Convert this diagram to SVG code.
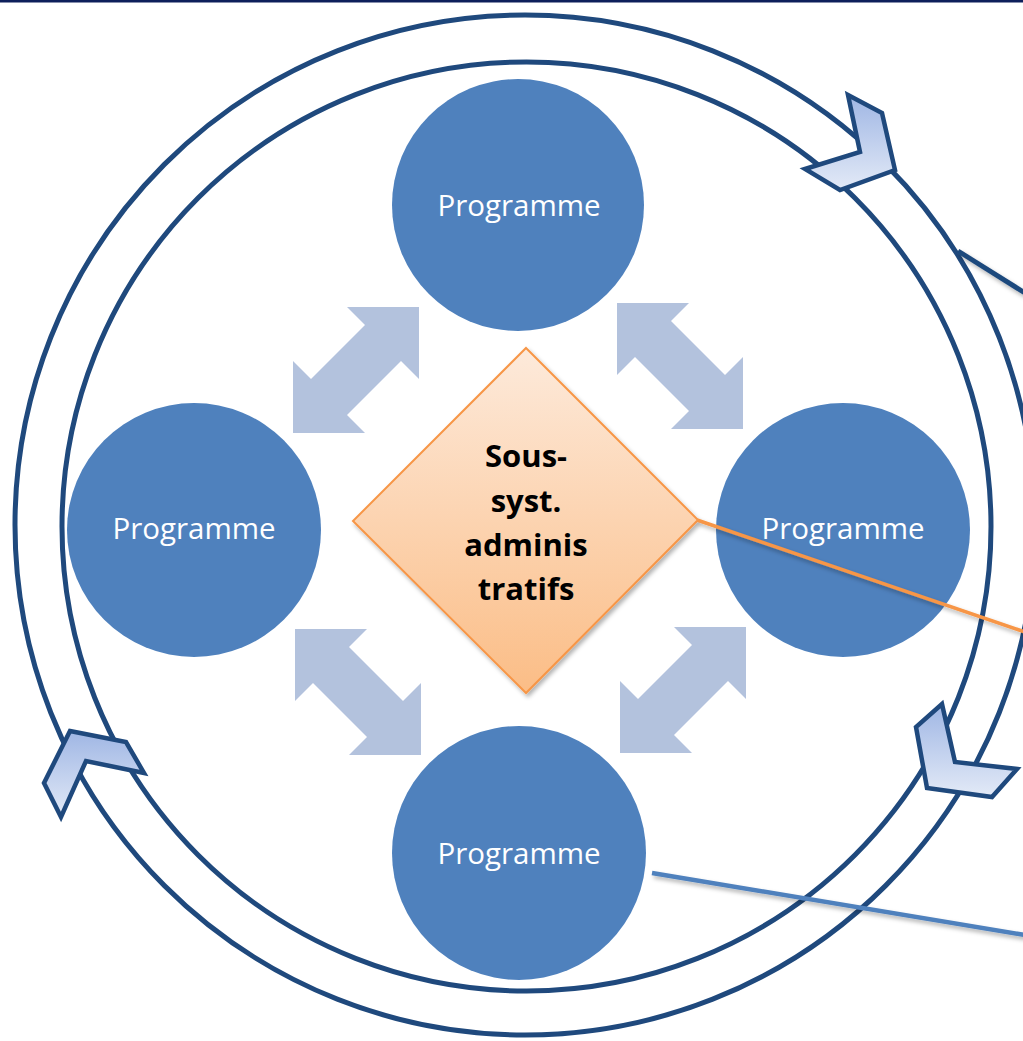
<svg xmlns="http://www.w3.org/2000/svg" width="1023" height="1041" viewBox="0 0 1023 1041">
  <defs>
    <linearGradient id="gDiamond" x1="0" y1="0" x2="0" y2="1">
      <stop offset="0" stop-color="#fdeadb"/>
      <stop offset="1" stop-color="#fbbd86"/>
    </linearGradient>
    <linearGradient id="gChev" x1="0" y1="0" x2="0" y2="1">
      <stop offset="0" stop-color="#9fb6e4"/>
      <stop offset="1" stop-color="#e3eaf7"/>
    </linearGradient>
    <filter id="shadow" x="-20%" y="-20%" width="140%" height="140%">
      <feDropShadow dx="2" dy="3" stdDeviation="2" flood-color="#000" flood-opacity="0.3"/>
    </filter>
    <path id="dblArrow" d="M63,-63 L63,9 L45,-9 L-9,45 L9,63 L-63,63 L-63,-9 L-45,9 L9,-45 L-9,-63 Z"/>
  </defs>
  <style>
    .ring { fill: none; stroke: #1f497d; stroke-width: 5; }
    .prog { fill: #4f81bd; }
    .progText { font-family: "Open Sans", "Noto Sans", sans-serif; font-size: 29.5px; fill: #ffffff; text-anchor: middle; }
    .dtext { font-family: "Open Sans", "Noto Sans", sans-serif; font-size: 31px; font-weight: bold; fill: #000000; text-anchor: middle; }
    .arrow { fill: #b3c2dd; }
    .chev { fill: url(#gChev); stroke: #1f497d; stroke-width: 4.5; stroke-linejoin: miter; }
  </style>
  <rect x="0" y="0" width="1023" height="1041" fill="#ffffff"/>
  <rect x="0" y="0" width="1023" height="2.5" fill="#0e1f5b"/>

  <g id="rings">
    <circle class="ring" cx="525" cy="525" r="510"/>
    <circle class="ring" cx="526.5" cy="526.5" r="464.5"/>
  </g>

  <g id="chevrons">
    <polygon class="chev" points="848,95 882,113 895,170 840,190 805,169 860,152"/>
    <polygon class="chev" points="70,731 126,742 144,773 86,761 61,817 44,783"/>
    <polygon class="chev" points="942,704 955,762 1017,769 992,797 927,788 916,727"/>
  </g>

  <g id="double-arrows">
    <use href="#dblArrow" class="arrow" transform="translate(356,370)"/>
    <use href="#dblArrow" class="arrow" transform="translate(680,366) scale(-1,1)"/>
    <use href="#dblArrow" class="arrow" transform="translate(358,692) scale(-1,1)"/>
    <use href="#dblArrow" class="arrow" transform="translate(683,690)"/>
  </g>

  <g id="prog-top">
    <circle class="prog" cx="518" cy="205" r="126"/>
    <text class="progText" x="519" y="216">Programme</text>
  </g>
  <g id="prog-left">
    <circle class="prog" cx="194" cy="530" r="127"/>
    <text class="progText" x="194" y="539">Programme</text>
  </g>
  <g id="prog-right">
    <circle class="prog" cx="843" cy="530" r="127"/>
    <text class="progText" x="843" y="539">Programme</text>
  </g>
  <g id="prog-bottom">
    <circle class="prog" cx="519" cy="853" r="127"/>
    <text class="progText" x="519" y="864">Programme</text>
  </g>

  <g id="center-diamond">
    <polygon points="526,348 698,520 526,693 353,521" fill="url(#gDiamond)" stroke="#f79646" stroke-width="2" filter="url(#shadow)"/>
    <text class="dtext" x="526" y="467">Sous-</text>
    <text class="dtext" x="526" y="512">syst.</text>
    <text class="dtext" x="526" y="556">adminis</text>
    <text class="dtext" x="526" y="600">tratifs</text>
  </g>

  <g id="connectors" filter="url(#shadow)">
    <line x1="958" y1="251" x2="1025" y2="293" stroke="#1f497d" stroke-width="5"/>
    <line x1="697" y1="520" x2="1025" y2="632" stroke="#f79646" stroke-width="3.5"/>
    <line x1="652" y1="873" x2="1025" y2="935" stroke="#4f81bd" stroke-width="4.5"/>
  </g>
</svg>
